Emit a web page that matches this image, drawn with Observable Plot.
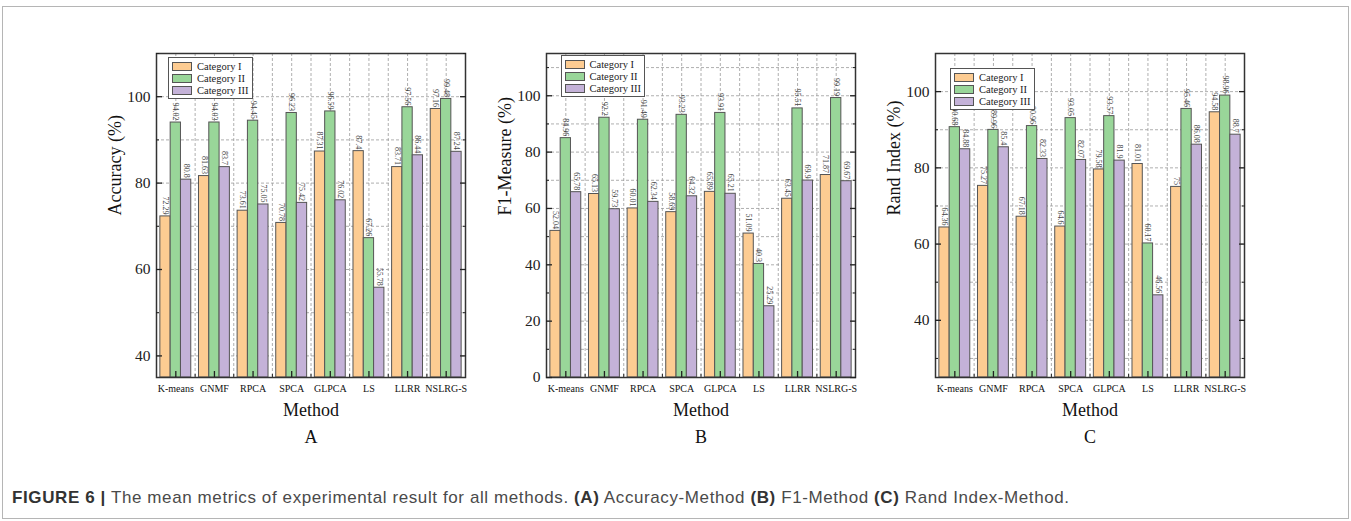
<!DOCTYPE html>
<html><head><meta charset="utf-8">
<script src="https://cdn.jsdelivr.net/npm/d3@7"></script>
<script src="https://cdn.jsdelivr.net/npm/@observablehq/plot@0.6"></script>
<style>
html,body{margin:0;padding:0;background:#fff}
body{width:1351px;height:521px;overflow:hidden;position:relative;font-family:"Liberation Serif",serif}
#box{position:absolute;left:2px;top:6px;width:1347px;height:513px;border:1.5px solid #b5b5b5;box-sizing:border-box}
.panel{position:absolute;top:20px}
.legend{position:absolute;background:#fff;border:1px solid #555;padding:2px 3px 2px 3px;font:10.5px "Liberation Serif",serif;color:#222;box-sizing:border-box}
.row{display:flex;align-items:center;height:12px;white-space:nowrap}
.sw{width:20px;height:9px;border:1px solid #555;margin-right:5px;box-sizing:border-box}
#caption{position:absolute;left:12px;top:488px;font:17px "Liberation Sans",Arial,sans-serif;letter-spacing:0.6px;color:#4a4a4a;white-space:nowrap}
#caption b{color:#333}
</style></head>
<body>
<div id="box"></div>
<div id="caption"><b>FIGURE 6 |</b> The mean metrics of experimental result for all methods. <b>(A)</b> Accuracy-Method <b>(B)</b> F1-Method <b>(C)</b> Rand Index-Method.</div>
<script>
const methods = ["K-means","GNMF","RPCA","SPCA","GLPCA","LS","LLRR","NSLRG-S"];
const categories = ["Category I","Category II","Category III"];
const colors = ["#FDCC92","#99D699","#C4B2D8"];

const accuracyI   = [72.29, 81.63, 73.61, 70.78, 87.31, 87.4, 83.71, 97.16];
const accuracyII  = [94.02, 94.03, 94.45, 96.23, 96.59, 67.26, 97.56, 99.48];
const accuracyIII = [80.8, 83.7, 75.05, 75.42, 76.02, 55.78, 86.44, 87.24];

const f1I   = [52.04, 65.13, 60.01, 58.69, 65.89, 51.09, 63.45, 71.87];
const f1II  = [84.96, 92.2, 91.49, 93.23, 93.91, 40.3, 95.51, 99.19];
const f1III = [65.78, 59.73, 62.34, 64.32, 65.21, 25.29, 69.9, 69.67];

const randI   = [64.36, 75.27, 67.18, 64.6, 79.58, 81.01, 75, 94.58];
const randII  = [90.68, 89.96, 90.96, 93.05, 93.57, 60.17, 95.46, 98.96];
const randIII = [84.88, 85.4, 82.33, 82.07, 81.9, 46.56, 86.08, 88.7];

const panels = [
  {series:[accuracyI,accuracyII,accuracyIII], yLabel:"Accuracy (%)", yDomain:[35,110], major:[40,60,80,100], minor:[50,70,90,110], letter:"A", legend:[102,37]},
  {series:[f1I,f1II,f1III], yLabel:"F1-Measure (%)", yDomain:[0,115], major:[0,20,40,60,80,100], minor:[10,30,50,70,90,110], letter:"B", legend:[105,35]},
  {series:[randI,randII,randIII], yLabel:"Rand Index (%)", yDomain:[25,110], major:[40,60,80,100], minor:[30,50,70,90], letter:"C", legend:[105,48]}
];

const groupWidth = 0.8, barW = groupWidth / 3;
const centers = d3.range(methods.length);
const halves = d3.range(0.5, methods.length - 1, 1);
const gridXs = d3.range(0, methods.length - 0.5, 0.5);

panels.forEach((p, pi) => {
  const rows = [];
  p.series.forEach((s, c) => s.forEach((v, m) => rows.push({m, c, v, cat: categories[c]})));
  const ymin = p.yDomain[0];
  const chart = Plot.plot({
    width: 420, height: 430,
    marginLeft: 90, marginRight: 21, marginTop: 33, marginBottom: 73,
    x: {type: "linear", domain: [-0.5, methods.length - 0.5]},
    y: {domain: p.yDomain},
    color: {type: "ordinal", domain: categories, range: colors},
    style: {fontFamily: "Liberation Serif, serif", background: "transparent", overflow: "visible", color: "#222"},
    marks: [
      Plot.gridY([...p.major, ...p.minor], {stroke: "#9a9a9a", strokeOpacity: 1, strokeDasharray: "3,2", strokeWidth: 0.8}),
      Plot.gridX(gridXs, {stroke: "#9a9a9a", strokeOpacity: 1, strokeDasharray: "3,2", strokeWidth: 0.8}),
      Plot.rect(rows, {
        x1: d => d.m - groupWidth / 2 + d.c * barW,
        x2: d => d.m - groupWidth / 2 + (d.c + 1) * barW,
        y1: ymin, y2: "v", fill: "cat", stroke: "#555", strokeWidth: 1
      }),
      Plot.text(rows, {
        x: d => d.m - groupWidth / 2 + (d.c + 0.5) * barW,
        y: "v", text: d => String(d.v), rotate: 90, textAnchor: "end",
        dy: -2, fontSize: 8, fill: "#444"
      }),
      Plot.frame({stroke: "#333", strokeWidth: 1.5}),
      Plot.axisY({ticks: p.major, tickSize: 0, tickPadding: 6, fontSize: 15.5, label: null, tickFormat: d => String(d)}),
      Plot.axisY({ticks: p.major, anchor: "left", tickSize: -6, tickFormat: () => "", label: null, strokeWidth: 1.3}),
      Plot.axisY({ticks: p.minor, anchor: "left", tickSize: -3, tickFormat: () => "", label: null}),
      Plot.axisY({ticks: p.major, anchor: "right", tickSize: -6, tickFormat: () => "", label: null, strokeWidth: 1.3}),
      Plot.axisY({ticks: p.minor, anchor: "right", tickSize: -3, tickFormat: () => "", label: null}),
      Plot.axisX({ticks: centers, tickSize: 0, tickPadding: 7, fontSize: 10, fill: "#111", label: null, tickFormat: i => methods[i]}),
      Plot.axisX({ticks: centers, tickSize: -6, tickFormat: () => "", label: null, strokeWidth: 1.3}),
      Plot.axisX({ticks: halves, tickSize: -3, tickFormat: () => "", label: null}),
      Plot.text([p.yLabel], {text: d => d, frameAnchor: "left", dx: -41, rotate: -90, fontSize: 18, fill: "#111"}),
      Plot.text(["Method"], {text: d => d, frameAnchor: "bottom", dy: 38, fontSize: 18, fill: "#111"}),
      Plot.text([p.letter], {text: d => d, frameAnchor: "bottom", dy: 65, fontSize: 18, fill: "#111"})
    ]
  });
  const div = document.createElement("div");
  div.className = "panel";
  div.style.left = (66 + 389.5 * pi) + "px";
  div.appendChild(chart);
  const lg = document.createElement("div");
  lg.className = "legend";
  lg.style.left = p.legend[0] + "px";
  lg.style.top = p.legend[1] + "px";
  categories.forEach((c, k) => {
    const r = document.createElement("div");
    r.className = "row";
    const sw = document.createElement("div");
    sw.className = "sw";
    sw.style.background = colors[k];
    r.appendChild(sw);
    r.appendChild(document.createTextNode(c));
    lg.appendChild(r);
  });
  div.appendChild(lg);
  document.body.appendChild(div);
});
</script>
</body></html>
